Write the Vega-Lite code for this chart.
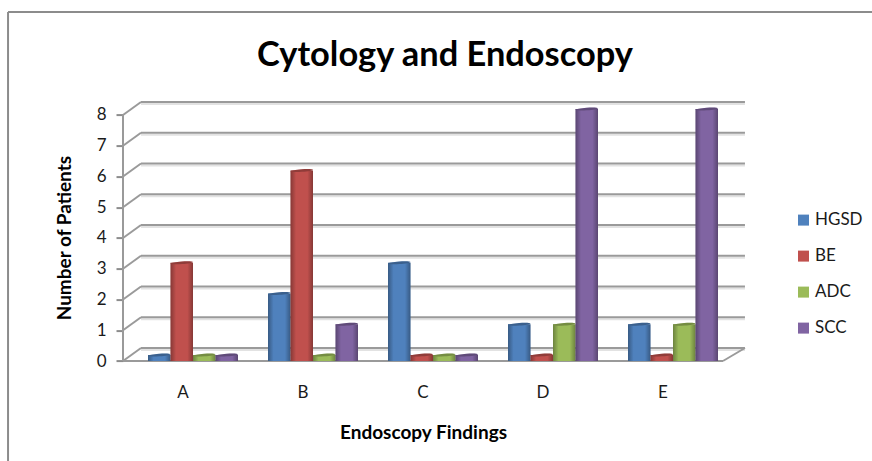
{
"$schema":"https://vega.github.io/schema/vega-lite/v6.json",
"width":624,"height":261.4,
"autosize":{"type":"none"},
"padding":{"left":123,"top":99.6,"right":125,"bottom":100},
"background":"white",
"config":{"view":{"stroke":null},"font":"Lato"},
"title":{"text":"Cytology and Endoscopy","font":"Lato","fontSize":34.4,"fontWeight":"bold","color":"#000000","anchor":"middle","dx":10,"offset":-62,"frame":"group"},
"datasets":{
"levels":[{"level":0},{"level":1},{"level":2},{"level":3},{"level":4},{"level":5},{"level":6},{"level":7},{"level":8}],
"floor":[{"level":0}],
"cells":[
{"finding":"A","series":"HGSD","count":0},{"finding":"A","series":"BE","count":3},{"finding":"A","series":"ADC","count":0},{"finding":"A","series":"SCC","count":0},
{"finding":"B","series":"HGSD","count":2},{"finding":"B","series":"BE","count":6},{"finding":"B","series":"ADC","count":0},{"finding":"B","series":"SCC","count":1},
{"finding":"C","series":"HGSD","count":3},{"finding":"C","series":"BE","count":0},{"finding":"C","series":"ADC","count":0},{"finding":"C","series":"SCC","count":0},
{"finding":"D","series":"HGSD","count":1},{"finding":"D","series":"BE","count":0},{"finding":"D","series":"ADC","count":1},{"finding":"D","series":"SCC","count":8},
{"finding":"E","series":"HGSD","count":1},{"finding":"E","series":"BE","count":0},{"finding":"E","series":"ADC","count":1},{"finding":"E","series":"SCC","count":8}
]},
"resolve":{"scale":{"x":"independent"},"axis":{"y":"independent"}},
"layer":[
{"layer":[
{"data":{"name":"levels"},"mark":{"type":"rule","stroke":"#e2e2e2","strokeWidth":2,"yOffset":-11},
 "encoding":{"x":{"datum":0.65,"type":"quantitative","scale":{"domain":[0.5,5.7],"nice":false,"zero":false},"axis":null},"x2":{"datum":5.683},
 "y":{"field":"level","type":"quantitative","scale":{"domain":[0,8.5],"nice":false,"zero":false},"axis":null}}},
{"data":{"name":"levels"},"mark":{"type":"rule","stroke":"#9a9a9a","strokeWidth":2,"yOffset":-13},
 "encoding":{"x":{"datum":0.65,"type":"quantitative"},"x2":{"datum":5.683},"y":{"field":"level","type":"quantitative","axis":null}}},
{"data":{"name":"levels"},"mark":{"type":"rule","stroke":"#9a9a9a","strokeWidth":2,"y2Offset":-13},
 "encoding":{"x":{"datum":0.5,"type":"quantitative"},"x2":{"datum":0.65},"y":{"field":"level","type":"quantitative","axis":null},"y2":{"field":"level"}}},
{"data":{"name":"floor"},"mark":{"type":"rule","stroke":"#9a9a9a","strokeWidth":2,"y2Offset":-13},
 "encoding":{"x":{"datum":5.5,"type":"quantitative"},"x2":{"datum":5.683},"y":{"field":"level","type":"quantitative","axis":null},"y2":{"field":"level"}}},
{"data":{"name":"floor"},"mark":{"type":"rule","stroke":"#9a9a9a","strokeWidth":2},
 "encoding":{"x":{"datum":0.5,"type":"quantitative"},"x2":{"datum":5.5},"y":{"field":"level","type":"quantitative","axis":null}}},
{"data":{"name":"floor"},"mark":{"type":"rule","stroke":"#9a9a9a","strokeWidth":2},
 "encoding":{"x":{"datum":0.5,"type":"quantitative"},"y":{"datum":0,"type":"quantitative","axis":null},"y2":{"datum":8}}},
{"data":{"name":"floor"},"mark":{"type":"rule","stroke":"#8c8c8c","strokeWidth":2},
 "encoding":{"x":{"datum":-0.458,"type":"quantitative"},"x2":{"datum":6.75},"y":{"datum":11.35,"type":"quantitative","axis":null}}},
{"data":{"name":"floor"},"mark":{"type":"rule","stroke":"#8c8c8c","strokeWidth":2},
 "encoding":{"x":{"datum":-0.458,"type":"quantitative"},"y":{"datum":11.35,"type":"quantitative","axis":null},"y2":{"datum":-3.3}}}
]},
{"data":{"name":"cells"},
 "transform":[{"filter":"datum.count>0"}],
 "mark":{"type":"point","filled":true,"opacity":1,"shape":"M-1,0A1,0.12,0,1,1,1,0A1,0.12,0,1,1,-1,0Z","size":506,"angle":-4,"yOffset":-6},
 "encoding":{
  "x":{"field":"finding","type":"nominal","scale":{"domain":["A","B","C","D","E"],"range":[0,600],"paddingInner":0,"paddingOuter":0},"axis":null},
  "xOffset":{"field":"series","type":"nominal","scale":{"domain":["HGSD","BE","ADC","SCC"],"range":[25,115],"paddingInner":0,"paddingOuter":0}},
  "y":{"datum":0,"type":"quantitative","axis":null},
  "color":{"field":"series","type":"nominal","scale":{"domain":["HGSD","BE","ADC","SCC"],"range":["#4f81bd","#c0504d","#9bbb59","#8064a2"]},
   "legend":{"orient":"none","legendX":672,"legendY":112,"title":null,"symbolType":"square","symbolSize":121,"labelFontSize":17,"labelFont":"Lato","labelColor":"#1a1a1a","rowPadding":18,"labelOffset":3,"symbolStrokeWidth":0}}
 }
},
{"data":{"name":"cells"},
 "encoding":{
  "x":{"field":"finding","type":"nominal","scale":{"domain":["A","B","C","D","E"],"range":[0,600],"paddingInner":0,"paddingOuter":0},
   "axis":{"orient":"bottom","labelAngle":0,"domain":false,"ticks":false,"grid":false,"labelFontSize":17,"labelColor":"#1a1a1a","labelPadding":23,"labelFont":"Lato","title":"Endoscopy Findings","titleFont":"Lato","titleFontSize":19,"titleFontWeight":"bold","titleColor":"#000000","titleX":300,"titleY":62}},
  "xOffset":{"field":"series","type":"nominal","scale":{"domain":["HGSD","BE","ADC","SCC"],"range":[25,115],"paddingInner":0,"paddingOuter":0}},
  "y":{"field":"count","type":"quantitative","stack":null,
   "axis":{"values":[0,1,2,3,4,5,6,7,8],"tickCount":9,"labelOverlap":false,"grid":false,"domain":false,"tickColor":"#8c8c8c","tickWidth":2,"tickSize":7,"labelFontSize":17,"labelColor":"#1a1a1a","labelPadding":10,"labelFont":"Lato","title":"Number of Patients","titleFont":"Lato","titleFontSize":19,"titleFontWeight":"bold","titleColor":"#000000","titleX":-49,"titleY":138}},
  "color":{"field":"series","type":"nominal","scale":{"domain":["HGSD","BE","ADC","SCC"],"range":["#4f81bd","#c0504d","#9bbb59","#8064a2"]},
   "legend":{"orient":"none","legendX":672,"legendY":112,"title":null,"symbolType":"square","symbolSize":121,"labelFontSize":17,"labelFont":"Lato","labelColor":"#1a1a1a","rowPadding":18,"labelOffset":3,"symbolStrokeWidth":0}}
 },
 "layer":[
 {"mark":{"type":"bar","yOffset":-6,"y2Offset":-6}},
 {"mark":{"type":"bar","yOffset":-6,"y2Offset":-6,"fill":{"gradient":"linear","x1":0,"y1":0,"x2":1,"y2":0,"stops":[{"offset":0,"color":"rgba(0,0,0,0.3)"},{"offset":0.25,"color":"rgba(0,0,0,0)"},{"offset":0.75,"color":"rgba(0,0,0,0)"},{"offset":1,"color":"rgba(0,0,0,0.3)"}]}},"encoding":{"color":{"value":null}}},
 {"mark":{"type":"point","filled":true,"opacity":1,"shape":"M-1,0A1,0.12,0,1,1,1,0A1,0.12,0,1,1,-1,0Z","size":506,"angle":-4,"yOffset":-6}},
 {"mark":{"type":"point","filled":true,"opacity":0.25,"shape":"M-1,0A1,0.12,0,1,1,1,0A1,0.12,0,1,1,-1,0Z","size":506,"angle":-4,"yOffset":-6},"encoding":{"color":{"value":"#000000"}}}
 ]
}
]
}
